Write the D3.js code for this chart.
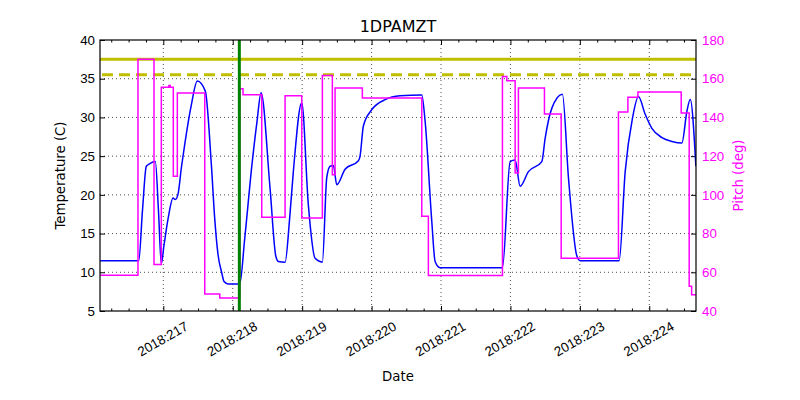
<!DOCTYPE html>
<html>
<head>
<meta charset="utf-8">
<script src="https://cdn.jsdelivr.net/npm/d3@7"></script>
<style>
  body { margin: 0; background: white; }
  svg { font-family: "DejaVu Sans", sans-serif; }
</style>
</head>
<body>
<div id="chart"></div>
<script>
// 1DPAMZT temperature (left) and pitch (right) vs day of year 2018
const tempDay = [216.09,216.646,216.70,216.755,216.80,216.885,216.93,216.971,217.01,217.07,217.140,217.173,217.212,217.26,217.308,217.403,217.490,217.605,217.692,217.74,217.788,217.84,217.875,217.932,218.101,218.173,218.278,218.35,218.408,218.537,218.620,218.657,218.754,218.82,218.873,218.994,219.089,219.186,219.291,219.354,219.402,219.450,219.499,219.618,219.810,219.834,219.882,220.003,220.195,220.411,220.723,220.771,220.867,220.915,220.987,221.885,221.996,222.068,222.140,222.259,222.452,222.500,222.597,222.749,222.836,222.957,223.004,223.566,223.653,223.758,223.844,223.941,224.037,224.182,224.326,224.470,224.542,224.590,224.671]
const tempVal = [11.5,11.5,18,23.7,24.0,24.3,18,11.1,13.5,17,19.6,19.4,20.1,23.5,26.5,31.6,34.7,33.4,23.9,17,12.3,10,8.8,8.5,8.5,14.4,24,29.5,33.2,20.9,12.1,11.4,11.3,17,23.0,31.9,18.7,11.8,11.3,22.2,23.7,23.8,21.3,23.3,24.4,25.0,28.9,31.0,32.3,32.8,32.9,29.5,16.6,11.4,10.6,10.6,24.3,24.5,21.1,23.0,24.3,27.3,31.2,33.0,22.2,12.1,11.5,11.5,23.0,29.9,32.7,30.4,28.6,27.4,26.9,26.7,30.8,32.3,23.7]

// pitch is held until the next change
const pitchDay = [216.088,216.635,216.866,216.971,217.08,217.10,217.144,217.202,217.597,217.813,218.101,218.148,218.418,218.754,218.994,219.291,219.435,219.474,219.867,220.723,220.818,221.885,221.948,222.068,222.115,222.490,222.731,223.556,223.692,223.836,224.460,224.575,224.61,224.673]
const pitchVal = [58.5,170,64,155.6,156.5,155.6,109.6,152.6,48.8,46.7,154.8,151.7,88.4,151.2,88.1,161.6,110.4,155.2,150,88.9,58.3,161.2,159.0,111.3,155.2,141.8,67.2,142.8,150.4,153.1,142.3,52.8,48.4,48.4]

const dayTicks = [217,218,219,220,221,222,223,224]
const tempTicks = [5,10,15,20,25,30,35,40]
const pitchTicks = [40,60,80,100,120,140,160,180]
const dayRange = [216.088, 224.673]
const planLimit = 37.5
const cautionLimit = 35.5
const eventDay = 218.095

const margin = {top:40, right:104, bottom:89, left:100},
  width = 800 - margin.left - margin.right,
  height = 400 - margin.top - margin.bottom;
const fs = "13.3px"

const x = d3.scaleLinear().domain(dayRange).range([0, width])
const y = d3.scaleLinear().domain([5, 40]).range([height, 0])
const y2 = d3.scaleLinear().domain([40, 180]).range([height, 0])

const svg = d3.select("#chart")
  .append("svg")
    .attr("width", 800)
    .attr("height", 400)
  .append("g")
    .attr("transform","translate(" + margin.left + "," + margin.top + ")");

svg.append("text")
  .attr("x", width / 2)
  .attr("y", -8)
  .attr("text-anchor","middle")
  .style("font-size","16px")
  .text("1DPAMZT")

// grid
svg.selectAll(null)
  .data(dayTicks)
  .enter()
  .append("line")
  .attr("x1",d=>x(d)).attr("x2",d=>x(d))
  .attr("y1",0).attr("y2",height)
  .style("stroke","black").style("stroke-width",0.7).style("stroke-dasharray","1,3")
svg.selectAll(null)
  .data(tempTicks.slice(1,-1))
  .enter()
  .append("line")
  .attr("x1",0).attr("x2",width)
  .attr("y1",d=>y(d)).attr("y2",d=>y(d))
  .style("stroke","black").style("stroke-width",0.7).style("stroke-dasharray","1,3")

const minor = d3.range(216.25, 224.75, 0.25).filter(d => d > dayRange[0] && d < dayRange[1] && d % 1 != 0)

// x axis bottom
const xb = svg.append("g")
  .attr("transform", "translate(0," + height + ")")
  .call(d3.axisBottom(x)
    .tickValues(dayTicks)
    .tickSizeInner(-5).tickSizeOuter(0).tickPadding(4)
    .tickFormat(d => "2018:" + d))
  .style("font-size",fs)
xb.select(".domain").remove()
xb.selectAll("text")
  .attr("y", 0).attr("dy", null)
  .attr("text-anchor","middle")
  .attr("dominant-baseline","central")
  .attr("transform","translate(-1,28) rotate(-30)")
  .attr("fill","black")
svg.append("g")
  .attr("transform", "translate(0," + height + ")")
  .call(d3.axisBottom(x).tickValues(minor).tickSizeInner(-2.5).tickSizeOuter(0).tickFormat(''))
  .select(".domain").remove()
// x axis top
svg.append("g")
  .call(d3.axisTop(x).tickValues(dayTicks).tickSizeInner(-5).tickSizeOuter(0).tickFormat(''))
  .select(".domain").remove()
svg.append("g")
  .call(d3.axisTop(x).tickValues(minor).tickSizeInner(-2.5).tickSizeOuter(0).tickFormat(''))
  .select(".domain").remove()

svg.append("text")
  .attr("x", width / 2)
  .attr("y", 341)
  .attr("text-anchor","middle")
  .style("font-size",fs)
  .text("Date")

// left axis
const yl = svg.append("g")
  .call(d3.axisLeft(y).tickValues(tempTicks).tickSizeInner(-5).tickSizeOuter(0).tickPadding(5))
  .style("font-size",fs)
yl.select(".domain").remove()
yl.selectAll("text").attr("fill","black")
svg.append("text")
  .attr("transform","rotate(-90)")
  .attr("x", -height / 2)
  .attr("y", -35)
  .attr("text-anchor","middle")
  .style("font-size",fs)
  .text("Temperature (C)")

// right axis
const yr = svg.append("g")
  .attr("transform","translate(" + width + ",0)")
  .call(d3.axisRight(y2).tickValues(pitchTicks).tickSizeInner(-5).tickSizeOuter(0).tickPadding(6))
  .style("font-size",fs)
yr.select(".domain").remove()
yr.selectAll("text").attr("fill","#ff00ff")
svg.append("text")
  .attr("transform","rotate(-90)")
  .attr("x", -height / 2)
  .attr("y", width + 47)
  .attr("text-anchor","middle")
  .style("font-size",fs)
  .attr("fill","#ff00ff")
  .text("Pitch (deg)")

const plot = svg.append("g")
svg.append("clipPath").attr("id","clip")
  .append("rect").attr("width",width).attr("height",height)
plot.attr("clip-path","url(#clip)")

// limits
plot.append("line")
  .attr("x1",0).attr("x2",width)
  .attr("y1",y(planLimit)).attr("y2",y(planLimit))
  .style("stroke","#bfbf00").style("stroke-width",3)
plot.append("line")
  .attr("x1",0).attr("x2",width)
  .attr("y1",y(cautionLimit)).attr("y2",y(cautionLimit))
  .style("stroke","#bfbf00").style("stroke-width",3).style("stroke-dasharray","11,6")
  .attr("transform","translate(2,0)")

const temp = tempDay.map((d,i) => [d, tempVal[i]])
const pitch = pitchDay.map((d,i) => [d, pitchVal[i]])

plot.append("path")
  .datum(temp)
  .attr("d", d3.line().x(d=>x(d[0])).y(d=>y(d[1])).curve(d3.curveMonotoneX))
  .style("fill","none").style("stroke","#0000ff").style("stroke-width",1.5)

plot.append("path")
  .datum(pitch)
  .attr("d", d3.line().x(d=>x(d[0])).y(d=>y2(d[1])).curve(d3.curveStepAfter))
  .style("fill","none").style("stroke","#ff00ff").style("stroke-width",1.5)

plot.append("line")
  .attr("x1",x(eventDay)).attr("x2",x(eventDay))
  .attr("y1",0).attr("y2",height)
  .style("stroke","#008000").style("stroke-width",3)

svg.append("rect")
  .attr("width",width).attr("height",height)
  .style("fill","none").style("stroke","black").style("stroke-width",1.2)
</script>
</body>
</html>
